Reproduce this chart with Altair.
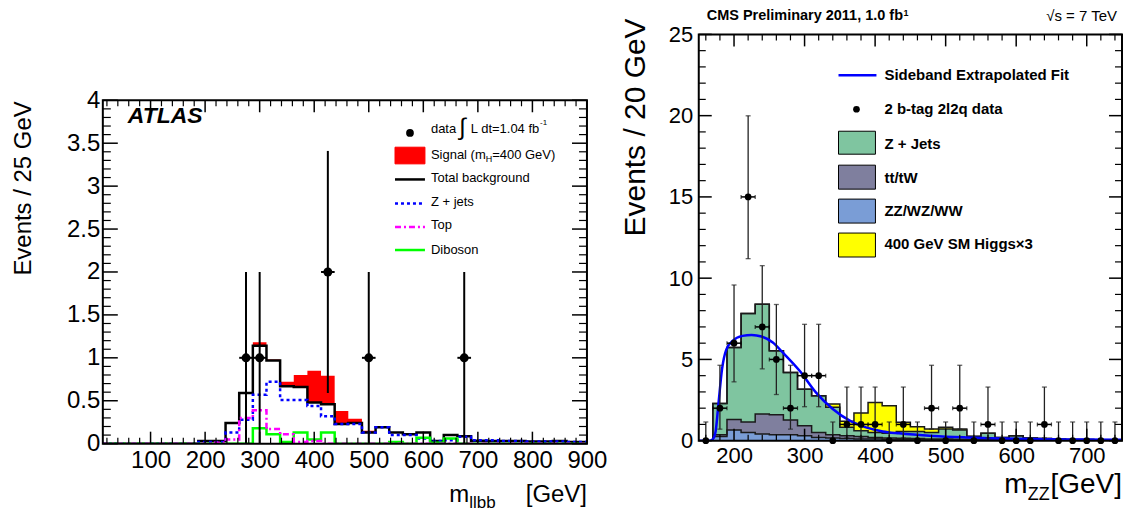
import altair as alt
import pandas as pd

FONT = "Liberation Sans"

# ---------------- ATLAS panel (left) ----------------
atlas_centers = [25, 50, 75, 100, 125, 150, 175, 200, 225, 250, 275, 300, 325, 350, 375, 400, 425, 450,
                 475, 500, 525, 550, 575, 600, 625, 650, 675, 700, 725, 750, 775, 800, 825, 850, 875, 900]
atlas_total = [0, 0, 0, 0, 0, 0, 0, 0.03, 0.03, 0.24, 0.59, 1.14, 0.97, 0.67, 0.66, 0.48, 0.46, 0.23,
               0.24, 0.13, 0.19, 0.13, 0.11, 0.13, 0.03, 0.10, 0.085, 0.035, 0.03, 0.03, 0.03, 0.025, 0.025, 0.03, 0.02, 0.02]
atlas_signal = [0, 0, 0, 0, 0, 0, 0, 0, 0, 0, 0, 0.04, 0.01, 0.05, 0.14, 0.37, 0.33, 0.15,
                0.05, 0.02, 0, 0, 0, 0, 0, 0, 0, 0, 0, 0, 0, 0, 0, 0, 0, 0]
atlas_zjets = [0, 0, 0, 0, 0, 0, 0, 0.02, 0.02, 0.13, 0.28, 0.57, 0.72, 0.51, 0.51, 0.44, 0.32, 0.23,
               0.23, 0.13, 0.19, 0.10, 0.10, 0.06, 0.03, 0.04, 0.08, 0.04, 0.04, 0.03, 0.03, 0.025, 0.025, 0.025, 0.02, 0.02]
atlas_top = [0, 0, 0, 0, 0, 0, 0, 0, 0.01, 0.05, 0.30, 0.39, 0.17, 0.11, 0.02, 0.03, 0, 0,
             0, 0, 0, 0, 0, 0, 0, 0, 0, 0, 0, 0, 0, 0, 0, 0, 0, 0]
atlas_diboson = [0, 0, 0, 0, 0, 0, 0, 0, 0, 0, 0, 0.18, 0.11, 0.02, 0.13, 0.05, 0.13, 0,
                 0, 0, 0, 0.02, 0, 0.07, 0.01, 0.06, 0, 0, 0, 0, 0, 0, 0, 0, 0, 0]
atlas_data_x = [275, 300, 425, 500, 675]
atlas_data_y = [1, 1, 2, 1, 1]
atlas_data_lo = [0, 0, 0.59, 0, 0]
atlas_data_hi = [2, 2, 3.41, 2, 2]
atlas_xlabels = [100, 200, 300, 400, 500, 600, 700, 800, 900]
atlas_ylabels = [0, 0.5, 1, 1.5, 2, 2.5, 3, 3.5, 4]

# ---------------- CMS panel (right) ----------------
cms_centers = [160, 180, 200, 220, 240, 260, 280, 300, 320, 340, 360, 380, 400, 420, 440,
               460, 480, 500, 520, 540, 560, 580, 600, 620, 640, 660, 680, 700, 720, 740]
cms_zz = [0, 0.25, 0.66, 0.51, 0.41, 0.37, 0.37, 0.31, 0.20, 0.16, 0.14, 0.10, 0.10, 0.08, 0.07,
          0.06, 0.05, 0.05, 0.04, 0.04, 0.03, 0.03, 0.03, 0.02, 0.02, 0.02, 0.02, 0.02, 0.01, 0.01]
cms_tt = [0, 0.12, 0.65, 0.64, 1.23, 1.23, 0.90, 0.61, 0.31, 0.21, 0.17, 0.15, 0.10, 0.09, 0.08,
          0.07, 0.06, 0.05, 0.05, 0.04, 0.04, 0.03, 0.03, 0.03, 0.03, 0.02, 0.02, 0.02, 0.02, 0.02]
cms_zjets = [0, 1.92, 4.42, 6.67, 6.75, 3.93, 2.93, 2.25, 2.25, 1.68, 0.51, 0.36, 0.31, 0.28, 0.42,
             0.44, 0.40, 0.62, 0.57, 0.17, 0.38, 0.14, 0.25, 0.11, 0.09, 0.06, 0.04, 0.03, 0.03, 0.02]
cms_higgs = [0, 0, 0, 0, 0, 0, 0, 0, 0, 0.20, 0.37, 1.09, 1.84, 1.70, 0.56,
             0.29, 0.21, 0.10, 0.06, 0.02, 0, 0, 0, 0, 0, 0, 0, 0, 0, 0]
cms_data = [0, 2, 6, 15, 7, 5, 2, 4, 4, 0, 1, 1, 1, 0, 1, 0, 2, 0, 2, 0, 1, 0, 0, 0, 1, 0, 0, 0, 0, 0]
cms_err_lo = [0, 0.71, 3.62, 11.2, 4.42, 2.84, 0.71, 2.09, 2.09, 0, 0.17, 0.17, 0.17, 0, 0.17,
              0, 0.71, 0, 0.71, 0, 0.17, 0, 0, 0, 0.17, 0, 0, 0, 0, 0]
cms_err_hi = [1.15, 4.64, 9.58, 19.99, 10.77, 8.38, 4.64, 7.16, 7.16, 1.15, 3.30, 3.30, 3.30, 1.15, 3.30,
              1.15, 4.64, 1.15, 4.64, 1.15, 3.30, 1.15, 1.15, 1.15, 3.30, 1.15, 1.15, 1.15, 1.15, 1.15]
fit_x = [150, 165, 170, 174, 178, 183, 189, 198, 212, 225, 239, 255, 269, 293, 316, 340, 364, 387,
         411, 434, 482, 529, 576, 623, 670, 741, 750]
fit_y = [0, 0, 0.1, 0.6, 2.3, 4.4, 5.6, 6.14, 6.45, 6.51, 6.41, 6.04, 5.43, 4.30, 2.97, 1.95, 1.23, 0.82,
         0.57, 0.45, 0.29, 0.20, 0.14, 0.10, 0.08, 0.06, 0.06]
cms_xlabels = [200, 300, 400, 500, 600, 700]
cms_ylabels = [0, 5, 10, 15, 20, 25]

ONE = pd.DataFrame({"k": [0]})


def step_frame(centers, half, hi, lo=None):
    d = {"x": [c - half for c in centers] + [centers[-1] + half],
         "hi": list(hi) + [hi[-1]]}
    if lo is not None:
        d["lo"] = list(lo) + [lo[-1]]
    return pd.DataFrame(d)


def text_layer(label, x, y, size, weight="normal", style="normal", align="left",
               baseline="middle", angle=0, color="black"):
    kw = dict(align=align, baseline=baseline, fontSize=size, fontWeight=weight,
              fontStyle=style, font=FONT, color=color)
    if angle:
        kw["angle"] = angle
    return alt.Chart(pd.DataFrame({"t": [label]})).mark_text(**kw).encode(
        x=alt.value(x), y=alt.value(y), text="t:N")


def seg(x1, x2, y, color, width, dash=None):
    kw = dict(color=color, strokeWidth=width)
    if dash:
        kw["strokeDash"] = dash
    return alt.Chart(ONE).mark_rule(**kw).encode(x=alt.value(x1), x2=alt.value(x2), y=alt.value(y))


def box(x1, x2, y1, y2, fill, stroke="black"):
    return alt.Chart(ONE).mark_rect(fill=fill, stroke=stroke, strokeWidth=1).encode(
        x=alt.value(x1), x2=alt.value(x2), y=alt.value(y1), y2=alt.value(y2))


def frame(W, top, bottom):
    return alt.Chart(ONE).mark_rect(fillOpacity=0, stroke="black", strokeWidth=2).encode(
        x=alt.value(0), x2=alt.value(W), y=alt.value(top), y2=alt.value(bottom))


def dot(x, y, size):
    return alt.Chart(ONE).mark_point(filled=True, color="black", size=size, opacity=1).encode(
        x=alt.value(x), y=alt.value(y))


def tick_layers(X, Y, W, top, H, xmaj, xmin, ymaj, ymin, lx_maj, lx_min, ly_maj, ly_min):
    out = []
    for vals, L, sw in [(ymaj, ly_maj, 1.5), (ymin, ly_min, 1.2)]:
        d = pd.DataFrame({"v": vals})
        out.append(alt.Chart(d).mark_rule(color="black", strokeWidth=sw).encode(
            y=Y("v"), x=alt.value(0), x2=alt.value(L)))
        out.append(alt.Chart(d).mark_rule(color="black", strokeWidth=sw).encode(
            y=Y("v"), x=alt.value(W), x2=alt.value(W - L)))
    for vals, L, sw in [(xmaj, lx_maj, 1.5), (xmin, lx_min, 1.2)]:
        d = pd.DataFrame({"v": vals})
        out.append(alt.Chart(d).mark_rule(color="black", strokeWidth=sw).encode(
            x=X("v"), y=alt.value(H), y2=alt.value(H - L)))
        out.append(alt.Chart(d).mark_rule(color="black", strokeWidth=sw).encode(
            x=X("v"), y=alt.value(top), y2=alt.value(top + L)))
    return out


# ================= Left panel =================
# the plot frame sits T1 px below the top of the panel so that it lines up with the reference
W1, H1, T1 = 485, 410, 66
lxs = alt.Scale(domain=[12.5, 900], nice=False, zero=False)
lys = alt.Scale(domain=[0, 4], nice=False, zero=False, range=[H1, T1])
lx_axis = alt.Axis(values=atlas_xlabels, format="d", labelFontSize=24, labelFont=FONT, labelColor="black",
                   labelPadding=5, ticks=False, domain=False, grid=False, labelFlush=False,
                   labelOverlap=False, title=None)
ly_axis = alt.Axis(values=atlas_ylabels, format="~g", labelFontSize=24, labelFont=FONT, labelColor="black",
                   labelPadding=3, ticks=False, domain=False, grid=False, labelFlush=False,
                   labelOverlap=False, title=None)


def LX(f):
    return alt.X(f, type="quantitative", scale=lxs, axis=lx_axis)


def LY(f):
    return alt.Y(f, type="quantitative", scale=lys, axis=ly_axis)


sig_top = [t + s for t, s in zip(atlas_total, atlas_signal)]
left_layers = [
    alt.Chart(step_frame(atlas_centers, 12.5, sig_top, atlas_total)).mark_area(
        interpolate="step-after", color="#ff0000", clip=True).encode(x=LX("x"), y=LY("hi"), y2=alt.Y2("lo")),
    alt.Chart(step_frame(atlas_centers, 12.5, atlas_total)).mark_line(
        interpolate="step-after", color="black", strokeWidth=2.5, clip=True).encode(x=LX("x"), y=LY("hi")),
    alt.Chart(step_frame(atlas_centers, 12.5, atlas_zjets)).mark_line(
        interpolate="step-after", color="#0000ff", strokeWidth=2.5, strokeDash=[3, 3], clip=True).encode(
        x=LX("x"), y=LY("hi")),
    alt.Chart(step_frame(atlas_centers, 12.5, atlas_diboson)).mark_line(
        interpolate="step-after", color="#00ff00", strokeWidth=2.5, clip=True).encode(x=LX("x"), y=LY("hi")),
    alt.Chart(step_frame(atlas_centers, 12.5, atlas_top)).mark_line(
        interpolate="step-after", color="#ff00ff", strokeWidth=2.5, strokeDash=[6, 3, 2, 3], clip=True).encode(
        x=LX("x"), y=LY("hi")),
]
ad = pd.DataFrame({"x": atlas_data_x, "y": atlas_data_y, "lo": atlas_data_lo, "hi": atlas_data_hi})
ad["xlo"] = ad["x"] - 12.5
ad["xhi"] = ad["x"] + 12.5
left_layers += [
    alt.Chart(ad).mark_rule(color="black", strokeWidth=2).encode(x=LX("x"), y=LY("lo"), y2=alt.Y2("hi")),
    alt.Chart(ad).mark_rule(color="black", strokeWidth=2).encode(x=LX("xlo"), x2=alt.X2("xhi"), y=LY("y")),
    alt.Chart(ad).mark_point(filled=True, color="black", size=80, opacity=1).encode(x=LX("x"), y=LY("y")),
]
l_ymin = [i / 10 for i in range(41) if i % 5]
l_xmin = [v for v in range(20, 900, 20) if v % 100]
left_layers += tick_layers(LX, LY, W1, T1, H1, atlas_xlabels, l_xmin, atlas_ylabels, l_ymin, 12, 6, 15, 8)

T = T1
left_layers += [
    dot(307.7, T + 32.7, 60),
    text_layer("data", 328.7, T + 29, 13),
    text_layer("\u222b", 357, T + 28, 24),
    text_layer("L dt=1.04 fb", 368.7, T + 29, 13),
    text_layer("-1", 438, T + 23, 8),
    box(292.7, 322.7, T + 47, T + 63.7, "#ff0000", "#ff0000"),
    text_layer("Signal (m", 328.7, T + 54.5, 13),
    text_layer("H", 383.5, T + 59, 9),
    text_layer("=400 GeV)", 390, T + 54.5, 13),
    seg(292.7, 322.7, T + 79.3, "black", 2.5),
    text_layer("Total background", 328.7, T + 78.3, 13),
    seg(292.7, 322.7, T + 103.3, "#0000ff", 2.5, [3, 3]),
    text_layer("Z + jets", 328.7, T + 101.5, 13),
    seg(292.7, 322.7, T + 127, "#ff00ff", 2.5, [6, 3, 2, 3]),
    text_layer("Top", 328.7, T + 125, 13),
    seg(292.7, 322.7, T + 150, "#00ff00", 2.5),
    text_layer("Diboson", 328.7, T + 150, 13),
    text_layer("ATLAS", 25, T + 16, 23, weight="bold", style="italic"),
    text_layer("Events / 25 GeV", -79, T + 1, 24, align="right", angle=270),
    text_layer("m", 347, T + 402, 24, baseline="alphabetic"),
    text_layer("llbb", 367, T + 408, 17, baseline="alphabetic"),
    text_layer("[GeV]", 485, T + 402, 24, align="right", baseline="alphabetic"),
    frame(W1, T1, H1),
]
left = alt.layer(*left_layers).properties(width=W1, height=H1)

# ================= Right panel =================
W2, H2 = 424, 407
rxs = alt.Scale(domain=[150, 750], nice=False, zero=False)
rys = alt.Scale(domain=[0, 25], nice=False, zero=False)
rx_axis = alt.Axis(values=cms_xlabels, format="d", labelFontSize=22, labelFont=FONT, labelColor="black",
                   labelPadding=5, ticks=False, domain=False, grid=False, labelFlush=False,
                   labelOverlap=False, title=None)
ry_axis = alt.Axis(values=cms_ylabels, format="d", labelFontSize=22, labelFont=FONT, labelColor="black",
                   labelPadding=6, ticks=False, domain=False, grid=False, labelFlush=False,
                   labelOverlap=False, title=None)


def RX(f):
    return alt.X(f, type="quantitative", scale=rxs, axis=rx_axis)


def RY(f):
    return alt.Y(f, type="quantitative", scale=rys, axis=ry_axis)


c1 = list(cms_zz)
c2 = [a + b for a, b in zip(c1, cms_tt)]
c3 = [a + b for a, b in zip(c2, cms_zjets)]
c4 = [a + b for a, b in zip(c3, cms_higgs)]
zeros = [0] * len(cms_centers)

right_layers = []
for lo, hi, col in [(zeros, c1, "#7a9dd6"), (c1, c2, "#7f7f9e"), (c2, c3, "#7fc5a0"), (c3, c4, "#ffff00")]:
    right_layers.append(alt.Chart(step_frame(cms_centers, 10, hi, lo)).mark_area(
        interpolate="step-after", color=col, clip=True).encode(x=RX("x"), y=RY("hi"), y2=alt.Y2("lo")))
for hi in [c1, c2, c3, c4]:
    right_layers.append(alt.Chart(step_frame(cms_centers, 10, hi)).mark_line(
        interpolate="step-after", color="#1a1a1a", strokeWidth=1.5, clip=True).encode(x=RX("x"), y=RY("hi")))
right_layers.append(alt.Chart(pd.DataFrame({"x": fit_x, "y": fit_y})).mark_line(
    interpolate="monotone", color="#0000ff", strokeWidth=2.5, clip=True).encode(x=RX("x"), y=RY("y")))

cd = pd.DataFrame({"x": cms_centers, "y": cms_data, "lo": cms_err_lo, "hi": cms_err_hi})
cd["xlo"] = cd["x"] - 10
cd["xhi"] = cd["x"] + 10
cnz = cd[cd["y"] > 0]
clo = cd[cd["lo"] > 0]
right_layers += [
    alt.Chart(cd).mark_rule(color="#222222", strokeWidth=1.3).encode(x=RX("x"), y=RY("lo"), y2=alt.Y2("hi")),
    alt.Chart(cd).mark_tick(orient="horizontal", color="#222222", size=5, thickness=1.3).encode(
        x=RX("x"), y=RY("hi")),
    alt.Chart(clo).mark_tick(orient="horizontal", color="#222222", size=5, thickness=1.3).encode(
        x=RX("x"), y=RY("lo")),
    alt.Chart(cnz).mark_rule(color="black", strokeWidth=1.5).encode(x=RX("xlo"), x2=alt.X2("xhi"), y=RY("y")),
    alt.Chart(cnz).mark_tick(orient="vertical", color="black", size=4, thickness=1.2).encode(
        x=RX("xlo"), y=RY("y")),
    alt.Chart(cnz).mark_tick(orient="vertical", color="black", size=4, thickness=1.2).encode(
        x=RX("xhi"), y=RY("y")),
    alt.Chart(cd).mark_point(filled=True, color="black", size=45, opacity=1).encode(x=RX("x"), y=RY("y")),
]
r_ymin = [v for v in range(1, 25) if v % 5]
r_xmin = [v for v in range(160, 750, 20) if v % 100]
right_layers += tick_layers(RX, RY, W2, 0, H2, cms_xlabels, r_xmin, cms_ylabels, r_ymin, 12, 6, 13, 7)

right_layers += [
    seg(140, 178, 41, "#0000ff", 2.5),
    text_layer("Sideband Extrapolated Fit", 186, 41, 15, weight="bold"),
    dot(158, 75, 45),
    text_layer("2 b-tag 2l2q data", 186, 75, 15, weight="bold"),
    box(140, 177, 97, 120, "#7fc5a0"),
    text_layer("Z + Jets", 186, 109.7, 15, weight="bold"),
    box(140, 177, 131, 155, "#7f7f9e"),
    text_layer("tt/tW", 186, 144, 15, weight="bold"),
    box(140, 177, 165, 189, "#7a9dd6"),
    text_layer("ZZ/WZ/WW", 186, 177, 15, weight="bold"),
    box(140, 177, 199, 223, "#ffff00"),
    text_layer("400 GeV SM Higgs\u00d73", 186, 210, 15, weight="bold"),
    text_layer("CMS Preliminary 2011, 1.0 fb", 8, -18, 14.5, weight="bold"),
    text_layer("1", 205, -21, 9, weight="bold"),
    text_layer("\u221as = 7 TeV", 419, -18, 15, align="right"),
    text_layer("Events / 20 GeV", -63, -16, 30, align="right", angle=270),
    text_layer("m", 306, 459, 28, baseline="alphabetic"),
    text_layer("ZZ", 329.5, 466, 18, baseline="alphabetic"),
    text_layer("[GeV]", 424, 459, 28, align="right", baseline="alphabetic"),
    frame(W2, 0, H2),
]
right = alt.layer(*right_layers).properties(width=W2, height=H2)

chart = alt.hconcat(left, right, spacing=13).properties(
    padding={"left": 4, "top": 0, "right": 0, "bottom": 0}, background="white"
).configure_view(strokeWidth=0).configure_axis(labelFont=FONT, labelColor="black")

chart.save("out.html", embed_options={"renderer": "svg", "actions": False})
